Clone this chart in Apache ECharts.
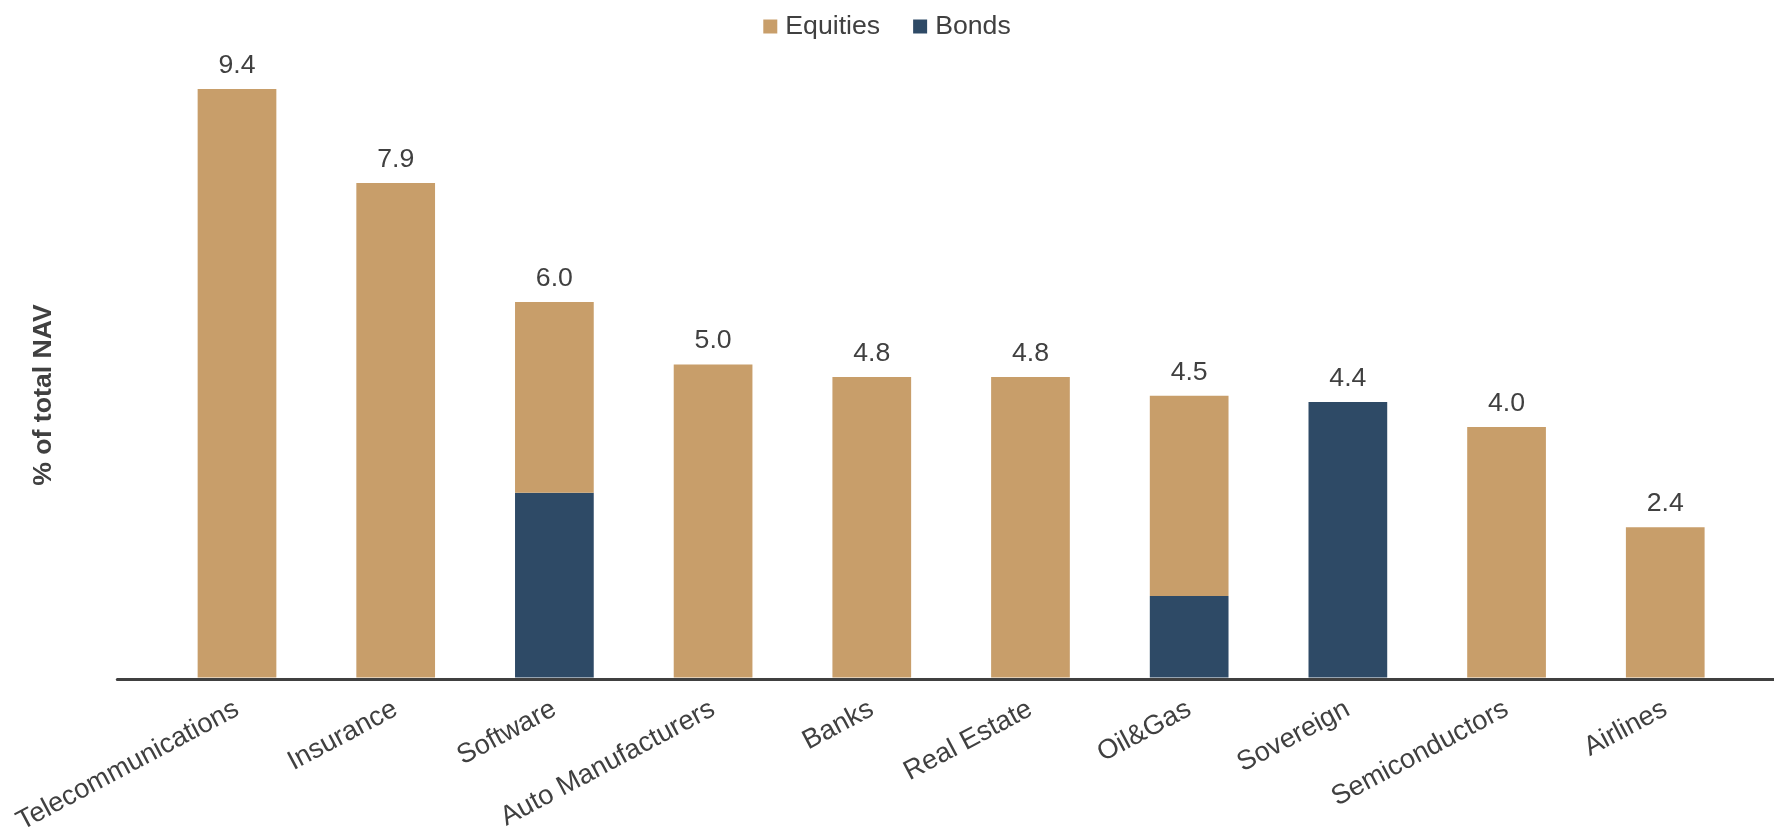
<!DOCTYPE html>
<html>
<head>
<meta charset="utf-8">
<script src="https://cdn.jsdelivr.net/npm/echarts@6/dist/echarts.min.js"></script>
<style>
html,body{margin:0;padding:0;background:#fff;}
#chart{width:1774px;height:832px;}
</style>
</head>
<body>
<div id="chart"></div>
<script>
const categories = ['Telecommunications', 'Insurance', 'Software', 'Auto Manufacturers', 'Banks', 'Real Estate', 'Oil&Gas', 'Sovereign', 'Semiconductors', 'Airlines'];
const equities = [9.4, 7.9, 3.05, 5.0, 4.8, 4.8, 3.2, 0, 4.0, 2.4];
const bonds = [0, 0, 2.95, 0, 0, 0, 1.3, 4.4, 0, 0];
const seriesNames = ['Equities', 'Bonds'];
const yAxisName = '% of total NAV';

const totals = categories.map((c, i) => equities[i] + bonds[i]);

const FONT = '"Liberation Sans", Arial, sans-serif';
const TEXT = '#404040';
const TAN = '#C89E6A';
const NAVY = '#2E4A66';
const FS = 26.67;

const chart = echarts.init(document.getElementById('chart'), null, {renderer: 'canvas'});
const option = {
  animation: false,
  backgroundColor: '#ffffff',
  textStyle: {fontFamily: FONT},
  legend: {
    data: seriesNames,
    top: 8,
    left: 'center',
    icon: 'rect',
    itemWidth: 14,
    itemHeight: 14,
    itemGap: 33,
    textStyle: {fontFamily: FONT, fontSize: FS, color: TEXT, padding: [0, 0, 0, 3]}
  },
  grid: [
    {left: 117.3, right: 0, top: 111, bottom: 153, outerBoundsMode: 'none', containLabel: false},
    {left: 157.65, right: 29.4, top: 51.5, bottom: 154.5, outerBoundsMode: 'none', containLabel: false}
  ],
  xAxis: [
    {
      gridIndex: 0, type: 'category', data: categories,
      axisLine: {show: true, lineStyle: {color: TEXT, width: 3}},
      axisTick: {show: false}, axisLabel: {show: false}, splitLine: {show: false}
    },
    {
      gridIndex: 1, type: 'category', data: categories,
      axisLine: {show: false}, axisTick: {show: false},
      axisLabel: {interval: 0, rotate: 28, margin: 30, fontSize: 27.3, color: TEXT, fontFamily: FONT}
    }
  ],
  yAxis: [
    {
      gridIndex: 0, type: 'value', min: 0, max: 1,
      name: yAxisName, nameLocation: 'middle', nameGap: 60, nameRotate: 90,
      nameTextStyle: {fontWeight: 'bold', fontSize: FS, color: TEXT, fontFamily: FONT},
      axisLine: {show: false}, axisTick: {show: false}, axisLabel: {show: false}, splitLine: {show: false}
    },
    {gridIndex: 1, type: 'value', min: 0, max: 10, show: false, splitLine: {show: false}}
  ],
  series: [
    {
      name: 'Bonds', type: 'bar', stack: 'nav', xAxisIndex: 1, yAxisIndex: 1,
      data: bonds, barWidth: '49.6%', itemStyle: {color: NAVY}, silent: true
    },
    {
      name: 'Equities', type: 'bar', stack: 'nav', xAxisIndex: 1, yAxisIndex: 1,
      data: equities, barWidth: '49.6%', itemStyle: {color: TAN}, silent: true
    },
    {
      name: 'Total', type: 'bar', xAxisIndex: 1, yAxisIndex: 1,
      data: totals, barWidth: '49.6%', barGap: '-100%', z: 1,
      itemStyle: {color: 'rgba(0,0,0,0)'}, silent: true,
      label: {
        show: true, position: 'top', distance: 10,
        fontSize: FS, color: TEXT, fontFamily: FONT,
        formatter: p => p.value.toFixed(1)
      }
    }
  ]
};
chart.setOption(option);
</script>
</body>
</html>
